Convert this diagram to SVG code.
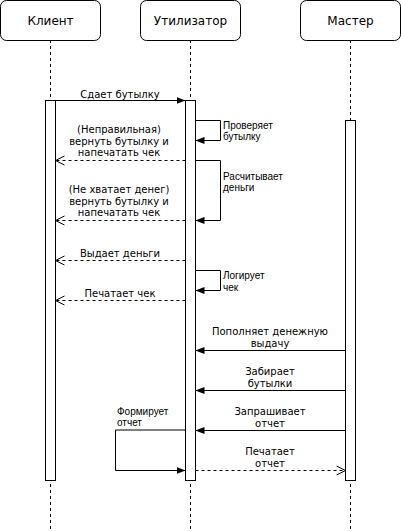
<svg xmlns="http://www.w3.org/2000/svg" width="401" height="531" viewBox="0 0 401 531">
<style>
.box{fill:#fff;stroke:#000;stroke-width:1}
.life{fill:none;stroke:#000;stroke-width:1;stroke-dasharray:3 3}
.act{fill:#fff;stroke:#000;stroke-width:1}
.sync{fill:none;stroke:#000;stroke-width:1;marker-end:url(#block)}
.ret{fill:none;stroke:#000;stroke-width:1;stroke-dasharray:3 3;marker-end:url(#open)}
.hdr{font-family:"DejaVu Sans",Verdana,sans-serif;font-size:12px;text-anchor:middle;fill:#000}
.msg{font-family:"DejaVu Sans",Verdana,sans-serif;font-size:10px;text-anchor:middle;fill:#000}
.note{font-family:"Liberation Sans",Arial,sans-serif;font-size:10px;text-anchor:start;fill:#000}
</style>
<defs>
<marker id="block" viewBox="0 0 9 7" refX="9" refY="3.5" markerWidth="9" markerHeight="7" markerUnits="userSpaceOnUse" orient="auto">
<path d="M0,0 L9,3.5 L0,7 z" fill="#000"/>
</marker>
<marker id="open" viewBox="-1 -1 11 11" refX="9" refY="4.5" markerWidth="11" markerHeight="11" markerUnits="userSpaceOnUse" orient="auto" overflow="visible">
<path d="M0,0 L9,4.5 L0,9" fill="none" stroke="#000" stroke-width="1"/>
</marker>
</defs>
<rect width="401" height="531" fill="#fff"/>

<g id="lifelines">
<line class="life" x1="50.5" y1="40" x2="50.5" y2="531"/>
<line class="life" x1="190.5" y1="40" x2="190.5" y2="531"/>
<line class="life" x1="350.5" y1="40" x2="350.5" y2="531"/>
</g>

<g id="client">
<rect class="box" x="0.5" y="0.5" width="100" height="40" rx="6"/>
<text class="hdr" x="50.5" y="25">Клиент</text>
<rect class="act" x="45.5" y="100.5" width="10" height="380"/>
</g>
<g id="utilizator">
<rect class="box" x="140.5" y="0.5" width="100" height="40" rx="6"/>
<text class="hdr" x="190.5" y="25">Утилизатор</text>
<rect class="act" x="185.5" y="100.5" width="10" height="380"/>
</g>
<g id="master">
<rect class="box" x="300.5" y="0.5" width="100" height="40" rx="6"/>
<text class="hdr" x="350.5" y="25">Мастер</text>
<rect class="act" x="345.5" y="120.5" width="10" height="360"/>
</g>

<g id="connectors">
<path class="sync" d="M55.5,100.5 H185.5"/>
<text class="msg" x="120" y="97.5">Сдает бутылку</text>

<path class="sync" d="M195.5,120.5 H220.5 V140.5 H195.5"/>
<text class="note" x="223" y="129">Проверяет</text>
<text class="note" x="223" y="140">бутылку</text>

<path class="ret" d="M185.5,160.5 H55.5"/>
<text class="msg" x="119" y="133">(Неправильная)</text>
<text class="msg" x="119" y="144.5">вернуть бутылку и</text>
<text class="msg" x="119" y="156">напечатать чек</text>

<path class="sync" d="M195.5,160.5 H220.5 V220.5 H195.5"/>
<text class="note" x="223" y="179.5">Расчитывает</text>
<text class="note" x="223" y="190.5">деньги</text>

<path class="ret" d="M185.5,220.5 H55.5"/>
<text class="msg" x="119" y="193">(Не хватает денег)</text>
<text class="msg" x="119" y="204.5">вернуть бутылку и</text>
<text class="msg" x="119" y="216">напечатать чек</text>

<path class="ret" d="M185.5,260.5 H55.5"/>
<text class="msg" x="120" y="257">Выдает деньги</text>

<path class="sync" d="M195.5,270.5 H220.5 V290.5 H195.5"/>
<text class="note" x="223" y="279">Логирует</text>
<text class="note" x="223" y="290.5">чек</text>

<path class="ret" d="M185.5,300.5 H55.5"/>
<text class="msg" x="120" y="297">Печатает чек</text>

<path class="sync" d="M345.5,350.5 H195.5"/>
<text class="msg" x="270" y="335">Пополняет денежную</text>
<text class="msg" x="270" y="346.5">выдачу</text>

<path class="sync" d="M345.5,390.5 H195.5"/>
<text class="msg" x="270" y="375">Забирает</text>
<text class="msg" x="270" y="386.5">бутылки</text>

<path class="sync" d="M345.5,430.5 H195.5"/>
<text class="msg" x="270" y="415">Запрашивает</text>
<text class="msg" x="270" y="426.5">отчет</text>

<path class="sync" d="M185.5,430 H115.5 V470.5 H185.5"/>
<text class="note" x="117" y="415">Формирует</text>
<text class="note" x="117" y="426">отчет</text>

<path class="ret" d="M195.5,470.5 H345.5"/>
<text class="msg" x="270" y="454.5">Печатает</text>
<text class="msg" x="270" y="466.5">отчет</text>
</g>
</svg>
